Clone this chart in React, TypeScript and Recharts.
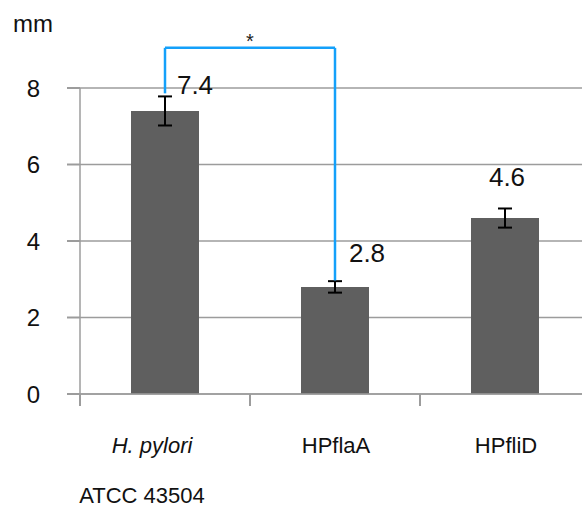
import React from "react";
import {
  BarChart,
  Bar,
  XAxis,
  YAxis,
  CartesianGrid,
  ErrorBar,
  LabelList,
  ReferenceLine,
} from "recharts";

// strains on the x axis, with an optional second line under the name
const categories = ["H. pylori", "HPflaA", "HPfliD"];
const subLabels = ["ATCC 43504", "", ""];
const italicNames = [true, false, false];

// motility halo diameter (mm) and error
const means = [7.4, 2.8, 4.6];
const errors = [0.38, 0.15, 0.25];

const yTicks = [0, 2, 4, 6, 8];

// significance bracket between H. pylori and HPflaA
const bracketTop = 9.05;
const bracketMark = "*";

const data = categories.map((name, i) => ({
  name,
  value: means[i],
  err: errors[i],
}));

const FONT = "'Liberation Sans', Arial, sans-serif";
const GRID = "#9c9c9c";
const BRACKET = "#14a0fa";
const CHART_W = 600;
const CHART_H = 511;
const MARGIN = { top: 88, right: 10, bottom: 0, left: 0 };
const Y_AXIS_W = 80;
const Y_TICK_LEN = 13;
const Y_TICK_GAP = 27;
const X_TICK_LEN = 12;
const BAND = (CHART_W - MARGIN.left - MARGIN.right - Y_AXIS_W) / categories.length;

// value labels were placed by hand in the original, so nudge each one
const labelNudge = [
  { dx: 30, dy: -26 },
  { dx: 32, dy: -34 },
  { dx: 2, dy: -41 },
];

function ValueLabel(props: any) {
  const { x, y, width, value, index } = props;
  const n = labelNudge[index] ?? { dx: 0, dy: -20 };
  return (
    <text
      x={x + width / 2 + n.dx}
      y={y + n.dy}
      textAnchor="middle"
      dominantBaseline="central"
      fontSize={26}
      fontFamily={FONT}
      fill="#111"
    >
      {value}
    </text>
  );
}

// category name (+ optional second line) and the boundary tick marks
function CategoryTick(props: any) {
  const { x, y, payload } = props;
  const i = payload.index;
  const shift = subLabels[i] ? -13 : 1;
  const left = x - BAND / 2;
  const right = x + BAND / 2;
  return (
    <g>
      <path
        d={`M${left},${y}V${y + X_TICK_LEN}`}
        stroke={GRID}
        strokeWidth={2}
        fill="none"
      />
      {i === categories.length - 1 ? (
        <path
          d={`M${right},${y}V${y + X_TICK_LEN}`}
          stroke={GRID}
          strokeWidth={2}
          fill="none"
        />
      ) : null}
      <text
        x={x + shift}
        y={y + 59}
        textAnchor="middle"
        fontSize={22}
        fontFamily={FONT}
        fontStyle={italicNames[i] ? "italic" : "normal"}
        fill="#111"
      >
        {payload.value}
      </text>
      {subLabels[i] ? (
        <text
          x={x - 23}
          y={y + 109}
          textAnchor="middle"
          fontSize={22}
          fontFamily={FONT}
          fill="#111"
        >
          {subLabels[i]}
        </text>
      ) : null}
    </g>
  );
}

// y tick: the label plus the short outside tick mark
function YTick(props: any) {
  const { x, y, payload } = props;
  const x0 = Number(x) + Y_TICK_GAP;
  return (
    <g>
      <path
        d={`M${x0},${y}H${x0 + Y_TICK_LEN}`}
        stroke={GRID}
        strokeWidth={2}
        fill="none"
      />
      <text
        x={x}
        y={y}
        dy="0.355em"
        textAnchor="end"
        fontSize={24}
        fontFamily={FONT}
        fill="#111"
      >
        {payload.value}
      </text>
    </g>
  );
}

export default function App() {
  const leftLegBottom = means[0] + errors[0] + 0.08;
  const rightLegBottom = means[1] + errors[1] + 0.02;
  return (
    <div
      style={{
        position: "absolute",
        left: 0,
        top: 0,
        width: 582,
        height: 511,
        overflow: "hidden",
        background: "#fff",
      }}
    >
      <BarChart
        width={CHART_W}
        height={CHART_H}
        data={data}
        margin={MARGIN}
        barCategoryGap={0}
      >
        <CartesianGrid vertical={false} stroke={GRID} strokeWidth={1.5} />
        <XAxis
          dataKey="name"
          height={117}
          axisLine={{ stroke: GRID, strokeWidth: 1.5 }}
          tickLine={false}
          tickSize={0}
          tickMargin={0}
          interval={0}
          tick={<CategoryTick />}
        />
        <YAxis
          width={Y_AXIS_W}
          domain={[0, 8]}
          ticks={yTicks}
          tickSize={Y_TICK_LEN}
          tickMargin={Y_TICK_GAP}
          tickLine={false}
          axisLine={{ stroke: GRID, strokeWidth: 1.5 }}
          tick={<YTick />}
          label={{
            value: "mm",
            position: "top",
            offset: 56,
            dx: -7,
            fontSize: 24,
            fontFamily: FONT,
            fill: "#111",
          }}
        />
        <Bar
          dataKey="value"
          fill="#5f5f5f"
          barSize={68}
          isAnimationActive={false}
        >
          <ErrorBar
            dataKey="err"
            direction="y"
            width={7}
            stroke="#000"
            strokeWidth={2}
            isAnimationActive={false}
          />
          <LabelList dataKey="value" content={<ValueLabel />} />
        </Bar>
        <ReferenceLine
          ifOverflow="visible"
          stroke={BRACKET}
          strokeWidth={2.5}
          segment={[
            { x: categories[0], y: leftLegBottom },
            { x: categories[0], y: bracketTop },
          ]}
        />
        <ReferenceLine
          ifOverflow="visible"
          stroke={BRACKET}
          strokeWidth={2.5}
          segment={[
            { x: categories[0], y: bracketTop },
            { x: categories[1], y: bracketTop },
          ]}
          label={{
            value: bracketMark,
            position: "top",
            offset: 0,
            fontSize: 20,
            fontFamily: FONT,
            fill: "#222",
          }}
        />
        <ReferenceLine
          ifOverflow="visible"
          stroke={BRACKET}
          strokeWidth={2.5}
          segment={[
            { x: categories[1], y: bracketTop },
            { x: categories[1], y: rightLegBottom },
          ]}
        />
      </BarChart>
    </div>
  );
}
